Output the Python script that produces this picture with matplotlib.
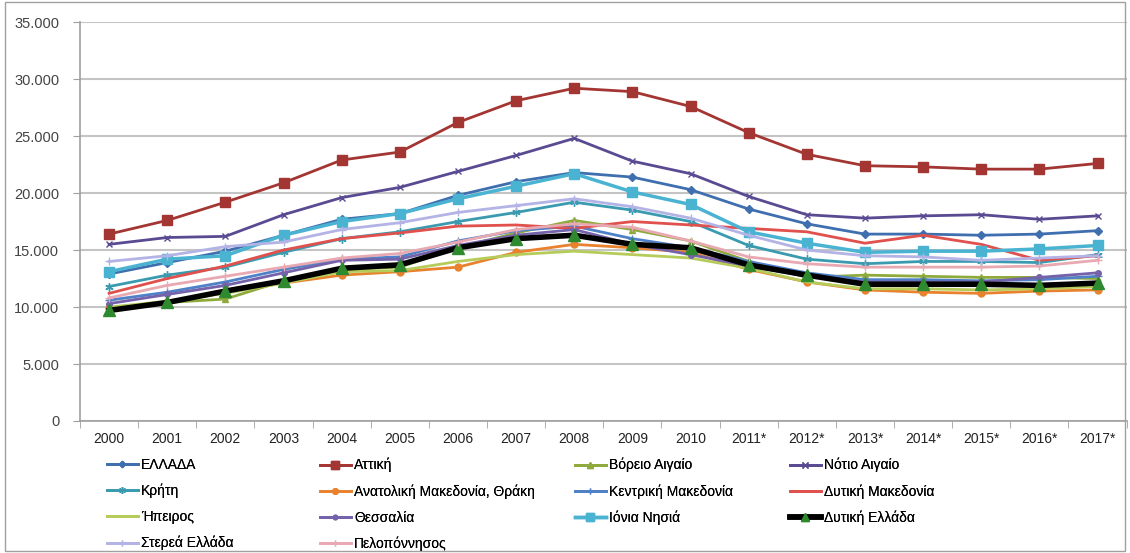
import matplotlib.pyplot as plt
from matplotlib.patches import Rectangle
from matplotlib.ticker import FuncFormatter
import numpy as np

years = ['2000', '2001', '2002', '2003', '2004', '2005', '2006', '2007', '2008',
         '2009', '2010', '2011*', '2012*', '2013*', '2014*', '2015*', '2016*', '2017*']

# GDP per capita (EUR) per region
ellada = [12900, 13900, 14900, 16300, 17700, 18200, 19800, 21000, 21800,
          21400, 20300, 18600, 17300, 16400, 16400, 16300, 16400, 16700]
attiki = [16400, 17600, 19200, 20900, 22900, 23600, 26200, 28100, 29200,
          28900, 27600, 25300, 23400, 22400, 22300, 22100, 22100, 22600]
voreio_aigaio = [9800, 10400, 10700, 12300, 13300, 13500, 15200, 16500, 17600,
                 16800, 15800, 14000, 12600, 12800, 12700, 12600, 12600, 12500]
notio_aigaio = [15500, 16100, 16200, 18100, 19600, 20500, 21900, 23300, 24800,
                22800, 21700, 19700, 18100, 17800, 18000, 18100, 17700, 18000]
kriti = [11800, 12800, 13500, 14800, 16000, 16600, 17500, 18300, 19200,
         18500, 17500, 15400, 14200, 13800, 14000, 14000, 13900, 14600]
amth = [9900, 10400, 11300, 12100, 12800, 13100, 13500, 14800, 15500,
        15200, 14800, 13300, 12200, 11500, 11300, 11200, 11400, 11500]
kentriki_mak = [10600, 11300, 12200, 13300, 14200, 14400, 15800, 16700, 17100,
                16000, 15200, 14000, 13000, 12400, 12400, 12300, 12400, 12700]
dytiki_mak = [11200, 12500, 13600, 15000, 16000, 16500, 17100, 17200, 16900,
              17500, 17200, 16900, 16600, 15600, 16300, 15500, 14100, 14500]
ipeiros = [10000, 10500, 11200, 12100, 13100, 13200, 14000, 14600, 14900,
           14600, 14300, 13400, 12200, 11600, 11600, 11500, 11600, 11800]
thessalia = [10300, 11100, 11900, 13000, 14100, 14200, 15400, 16300, 16800,
             15500, 14600, 13600, 12700, 12200, 12200, 12200, 12600, 13000]
ionia = [13100, 14200, 14500, 16300, 17500, 18200, 19500, 20600, 21700,
         20100, 19000, 16600, 15600, 14800, 14900, 14900, 15100, 15400]
dytiki_ellada = [9700, 10400, 11400, 12300, 13400, 13700, 15200, 16000, 16300,
                 15500, 15200, 13700, 12800, 12000, 12000, 12000, 11900, 12100]
sterea = [14000, 14500, 15300, 15700, 16800, 17400, 18300, 18900, 19500,
          18800, 17800, 16300, 15000, 14500, 14400, 14100, 14300, 14500]
peloponnisos = [10800, 11900, 12700, 13500, 14300, 14700, 15700, 16800, 17300,
                17000, 15800, 14400, 13800, 13500, 13500, 13500, 13600, 14100]

plt.rcParams['font.family'] = ['Liberation Sans', 'DejaVu Sans']

fig = plt.figure(figsize=(11.3, 5.53), dpi=100)
ax = fig.add_axes([0.0708, 0.2387, 0.9262, 0.7213])

x = np.arange(len(years))

# (label, values, color, marker, markersize, linewidth)
series = [
    ('ΕΛΛΑΔΑ', ellada, '#3f6fae', 'D', 4, 2),
    ('Αττική', attiki, '#a33633', 's', 7, 2),
    ('Βόρειο Αιγαίο', voreio_aigaio, '#8faa3c', '^', 5, 2),
    ('Νότιο Αιγαίο', notio_aigaio, '#5a4a92', 'x', 5, 2),
    ('Κρήτη', kriti, '#3a9bb0', (6, 2, 0), 6, 2),
    ('Ανατολική Μακεδονία, Θράκη', amth, '#e8822e', 'o', 5, 2),
    ('Κεντρική Μακεδονία', kentriki_mak, '#4f81c8', '+', 6, 2),
    ('Δυτική Μακεδονία', dytiki_mak, '#e0504d', None, 0, 2),
    ('Ήπειρος', ipeiros, '#b5cc5a', None, 0, 2),
    ('Θεσσαλία', thessalia, '#7462aa', 'o', 4, 2),
    ('Ιόνια Νησιά', ionia, '#4bb3d2', 's', 7, 2.5),
    ('Δυτική Ελλάδα', dytiki_ellada, '#000000', '^', 8, 4),
    ('Στερεά Ελλάδα', sterea, '#b3b3e6', '+', 6, 2),
    ('Πελοπόννησος', peloponnisos, '#e8a9b2', '+', 6, 2),
]

handles = []
for label, vals, color, marker, ms, lw in series:
    if label == 'Δυτική Ελλάδα':
        h, = ax.plot(x, vals, color=color, lw=lw, marker=marker, ms=ms,
                     markerfacecolor='#2f8a2f', markeredgecolor='#2f8a2f', label=label)
    else:
        h, = ax.plot(x, vals, color=color, lw=lw, marker=marker, ms=ms,
                     markerfacecolor=color, markeredgecolor=color, label=label)
    handles.append(h)

ax.set_xlim(-0.5, len(years) - 0.5)
ax.set_ylim(0, 35000)
ax.set_yticks(np.arange(0, 35001, 5000))
ax.yaxis.set_major_formatter(FuncFormatter(lambda v, p: f'{v:,.0f}'.replace(',', '.')))
ax.set_xticks(x)
ax.set_xticklabels(years)
ax.set_xticks(np.arange(-0.5, len(years), 1), minor=True)
ax.tick_params(axis='x', which='major', length=0, labelsize=10, pad=8, colors='#222222')
ax.tick_params(axis='x', which='minor', length=5, color='#a0a0a0')
ax.tick_params(axis='y', length=5, pad=10, color='#a0a0a0', labelsize=10.5, labelcolor='#444444')

ax.grid(axis='y', color='#c4c4c4', lw=1.5)
ax.set_axisbelow(True)
for s in ['top', 'right']:
    ax.spines[s].set_visible(False)
for s in ['left', 'bottom']:
    ax.spines[s].set_color('#a0a0a0')
    ax.spines[s].set_linewidth(1.2)

# legend: 4 columns laid out like the Excel legend, one legend per column
col_x = [107, 320, 575, 790]
columns = [[0, 4, 8, 12], [1, 5, 9, 13], [2, 6, 10], [3, 7, 11]]
for cx, idx in zip(col_x, columns):
    leg = fig.legend([handles[i] for i in idx], [series[i][0] for i in idx],
                     loc='upper left', bbox_to_anchor=(cx / 1130, 1 - 458 / 553),
                     frameon=False, fontsize=10, handlelength=2.2, handletextpad=0.25,
                     labelspacing=0.85, borderaxespad=0, borderpad=0, markerscale=0.8)
    fig.add_artist(leg)

fig.patches.append(Rectangle((0.004, 0.004), 0.992, 0.992, transform=fig.transFigure,
                             fill=False, edgecolor='#a0a0a0', lw=1))

fig.savefig('out.png', dpi=100)
